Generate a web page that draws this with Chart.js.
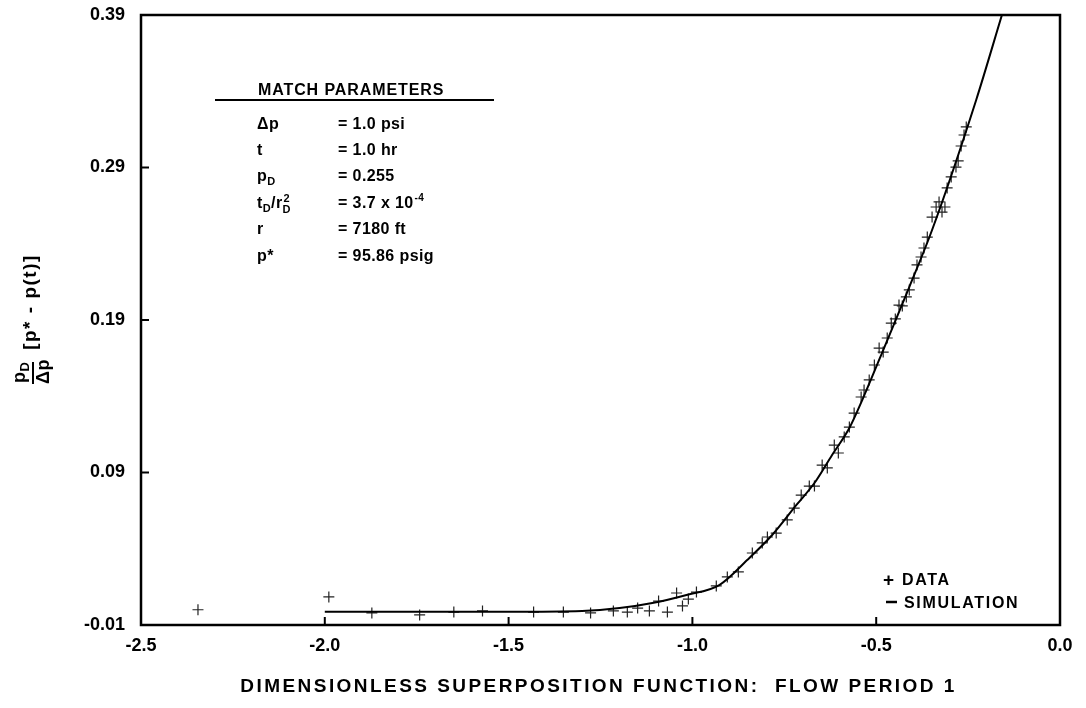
<!DOCTYPE html>
<html>
<head>
<meta charset="utf-8">
<script src="https://cdn.jsdelivr.net/npm/chart.js@4.4.0/dist/chart.umd.min.js"></script>
<style>
html,body{margin:0;padding:0;background:#fff;}
canvas{display:block;}
</style>
</head>
<body>
<canvas id="c" width="1086" height="708"></canvas>
<script>
// ---- Data ----
const dataX = [-2.345,-1.989,-1.872,-1.742,-1.649,-1.571,-1.432,-1.351,-1.277,-1.215,-1.177,-1.149,-1.117,-1.092,-1.068,-1.043,-1.027,-1.011,-0.989,-0.935,-0.905,-0.875,-0.837,-0.810,-0.796,-0.772,-0.742,-0.723,-0.704,-0.682,-0.668,-0.647,-0.633,-0.614,-0.603,-0.587,-0.573,-0.560,-0.541,-0.533,-0.519,-0.505,-0.492,-0.481,-0.470,-0.459,-0.448,-0.438,-0.429,-0.418,-0.410,-0.397,-0.389,-0.378,-0.370,-0.361,-0.348,-0.337,-0.321,-0.329,-0.313,-0.307,-0.296,-0.283,-0.277,-0.269,-0.261,-0.255];
const dataY = [0.0000,0.0084,-0.0021,-0.0034,-0.0015,-0.0008,-0.0015,-0.0015,-0.0021,-0.0008,-0.0015,0.0011,-0.0008,0.0057,-0.0015,0.0110,0.0025,0.0070,0.0116,0.0156,0.0215,0.0248,0.0372,0.0438,0.0477,0.0503,0.0589,0.0667,0.0752,0.0811,0.0811,0.0949,0.0930,0.1080,0.1028,0.1133,0.1198,0.1290,0.1395,0.1441,0.1507,0.1605,0.1716,0.1690,0.1782,0.1880,0.1907,0.1998,0.1992,0.2051,0.2097,0.2175,0.2261,0.2313,0.2372,0.2444,0.2575,0.2641,0.2608,0.2674,0.2641,0.2766,0.2838,0.2903,0.2943,0.3041,0.3113,0.3166];
const simX = [-2.0,-1.5,-1.3,-1.198,-1.109,-1.016,-0.927,-0.851,-0.783,-0.717,-0.668,-0.620,-0.573,-0.538,-0.473,-0.410,-0.348,-0.228,-0.158];
const simY = [-0.0013,-0.0013,-0.0008,0.0011,0.0044,0.0097,0.0162,0.0326,0.0490,0.0687,0.0831,0.1015,0.1192,0.1375,0.1749,0.2116,0.2490,0.3343,0.3900];
const xTicks = [-2.5,-2.0,-1.5,-1.0,-0.5,0.0];
const yTicks = [-0.01,0.09,0.19,0.29,0.39];
const xTitle = 'DIMENSIONLESS SUPERPOSITION FUNCTION:  FLOW PERIOD 1';
const legendLabels = ['DATA','SIMULATION'];
const paramTitle = 'MATCH PARAMETERS';
const paramValues = ['= 1.0 psi','= 1.0 hr','= 0.255','= 3.7 x 10','= 7180 ft','= 95.86 psig'];

const FONT = '"Liberation Sans", Arial, Helvetica, sans-serif';

function runs(ctx, x, y, parts){
  let cx = x;
  for(const p of parts){
    ctx.font = 'bold ' + p[1] + 'px ' + FONT;
    ctx.fillText(p[0], cx, y + (p[2]||0));
    cx += ctx.measureText(p[0]).width;
  }
  return cx;
}

const decor = {
  id:'decor',
  afterDraw(chart){
    const ctx = chart.ctx, a = chart.chartArea;
    const xs = chart.scales.x, ys = chart.scales.y;
    ctx.save();
    ctx.strokeStyle = '#000';
    ctx.fillStyle = '#000';
    // frame
    ctx.lineWidth = 2.5;
    ctx.strokeRect(a.left, a.top, a.right - a.left, a.bottom - a.top);
    // inward ticks
    ctx.lineWidth = 2;
    xs.ticks.forEach(t => {
      const px = xs.getPixelForValue(t.value);
      ctx.beginPath(); ctx.moveTo(px, a.bottom); ctx.lineTo(px, a.bottom - 8); ctx.stroke();
    });
    ys.ticks.forEach(t => {
      const py = ys.getPixelForValue(t.value);
      ctx.beginPath(); ctx.moveTo(a.left, py); ctx.lineTo(a.left + 8, py); ctx.stroke();
    });
    // x title
    ctx.textAlign = 'center';
    ctx.textBaseline = 'alphabetic';
    ctx.font = 'bold 19px ' + FONT;
    ctx.letterSpacing = '2.45px';
    ctx.fillText(xTitle, (a.left + a.right)/2 - 2, 692);
    ctx.letterSpacing = '0px';

    // y title (rotated)
    ctx.save();
    ctx.translate(33, 373);
    ctx.rotate(-Math.PI/2);
    ctx.textAlign = 'left';
    ctx.lineWidth = 2;
    ctx.beginPath(); ctx.moveTo(-11, 0); ctx.lineTo(11, 0); ctx.stroke();
    ctx.letterSpacing = '0.5px';
    runs(ctx, -10, -8, [['p',18,0],['D',13,4]]);
    runs(ctx, -11, 16, [['\u0394p',18,0]]);
    ctx.font = 'bold 19px ' + FONT;
    ctx.letterSpacing = '1.5px';
    ctx.textAlign = 'center';
    ctx.fillText('[p* - p(t)]', 71, 3);
    ctx.restore();

    // match parameters
    ctx.textAlign = 'left';
    ctx.letterSpacing = '0.9px';
    ctx.font = 'bold 16px ' + FONT;
    ctx.fillText(paramTitle, 258, 95);
    ctx.lineWidth = 2;
    ctx.beginPath(); ctx.moveTo(215, 100); ctx.lineTo(494, 100); ctx.stroke();
    const base = [129,155,181,208,234,261];
    ctx.letterSpacing = '0.4px';
    runs(ctx, 257, base[0], [['\u0394p',16,0]]);
    runs(ctx, 257, base[1], [['t',16,0]]);
    runs(ctx, 257, base[2], [['p',16,0],['D',11,4]]);
    let cx = runs(ctx, 257, base[3], [['t',16,0],['D',11,4],['/r',16,0]]);
    ctx.font = 'bold 11px ' + FONT;
    ctx.fillText('2', cx + 1, base[3] - 6);
    ctx.fillText('D', cx, base[3] + 5);
    runs(ctx, 257, base[4], [['r',16,0]]);
    runs(ctx, 257, base[5], [['p*',16,0]]);
    paramValues.forEach((v,i) => {
      const e = runs(ctx, 338, base[i], [[v,16,0]]);
      if(i === 3){ runs(ctx, e + 1, base[i] - 7, [['-4',10,0]]); }
    });
    // legend
    ctx.letterSpacing = '1.7px';
    ctx.font = 'bold 19px ' + FONT;
    ctx.fillText('+', 883, 586);
    ctx.font = 'bold 16px ' + FONT;
    ctx.fillText(legendLabels[0], 902, 585);
    ctx.lineWidth = 2.5;
    ctx.beginPath(); ctx.moveTo(886, 602); ctx.lineTo(897, 602); ctx.stroke();
    ctx.fillText(legendLabels[1], 904, 608);
    ctx.restore();
  }
};

new Chart(document.getElementById('c'), {
  type: 'scatter',
  data: {
    datasets: [
      {
        label: legendLabels[1],
        data: simX.map((x,i)=>({x, y: simY[i]})),
        showLine: true,
        borderColor: '#000',
        borderWidth: 2,
        pointRadius: 0,
        cubicInterpolationMode: 'monotone',
        fill: false
      },
      {
        label: legendLabels[0],
        data: dataX.map((x,i)=>({x, y: dataY[i]})),
        showLine: false,
        pointStyle: 'cross',
        pointRadius: 5.5,
        pointBorderWidth: 1.2,
        borderColor: '#222',
        backgroundColor: '#222'
      }
    ]
  },
  options: {
    responsive: false,
    animation: false,
    devicePixelRatio: 1,
    layout: { padding: { top: 15, right: 26, left: 0, bottom: 0 } },
    plugins: { legend: { display: false }, tooltip: { enabled: false } },
    scales: {
      x: {
        type: 'linear', min: -2.5, max: 0,
        afterBuildTicks: s => { s.ticks = xTicks.map(v => ({value: v})); },
        afterFit: s => { s.height = 83; s.paddingLeft = 0; s.paddingRight = 0; },
        grid: { display: false, drawTicks: false },
        border: { display: false },
        ticks: {
          padding: 10, color: '#000',
          font: { family: FONT, size: 18, weight: 'bold' },
          callback: v => Number(v).toFixed(1)
        }
      },
      y: {
        type: 'linear', min: -0.01, max: 0.39,
        afterBuildTicks: s => { s.ticks = yTicks.map(v => ({value: v})); },
        afterFit: s => { s.width = 141; s.paddingTop = 0; s.paddingBottom = 0; },
        grid: { display: false, drawTicks: false },
        border: { display: false },
        ticks: {
          padding: 16, color: '#000',
          font: { family: FONT, size: 18, weight: 'bold' },
          callback: v => Number(v).toFixed(2)
        }
      }
    }
  },
  plugins: [decor]
});
</script>
</body>
</html>
